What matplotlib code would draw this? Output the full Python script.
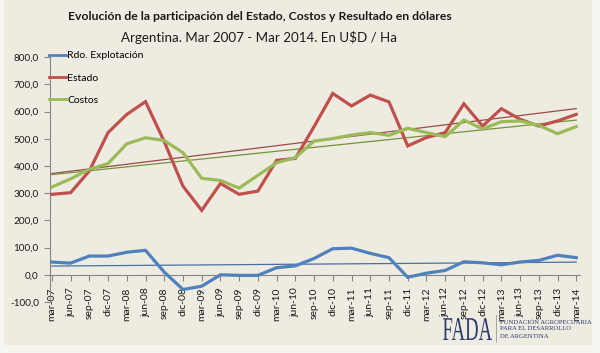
import numpy as np
import matplotlib
matplotlib.use('Agg')
import matplotlib.pyplot as plt
from matplotlib.lines import Line2D
from matplotlib.patches import Rectangle, PathPatch
from matplotlib.textpath import TextPath
from matplotlib.font_manager import FontProperties
from matplotlib.transforms import Affine2D
from matplotlib.ticker import FuncFormatter

plt.rcParams['font.family'] = ['Lato', 'DejaVu Sans']

# Quarterly data, U$D / Ha
quarters = ['mar-07', 'jun-07', 'sep-07', 'dic-07', 'mar-08', 'jun-08', 'sep-08', 'dic-08',
            'mar-09', 'jun-09', 'sep-09', 'dic-09', 'mar-10', 'jun-10', 'sep-10', 'dic-10',
            'mar-11', 'jun-11', 'sep-11', 'dic-11', 'mar-12', 'jun-12', 'sep-12', 'dic-12',
            'mar-13', 'jun-13', 'sep-13', 'dic-13', 'mar-14']
rdo_explotacion = [47, 43, 69, 69, 83, 90, 10, -54, -42, 0, -2, -2, 26, 33, 60, 96,
                   98, 79, 63, -9, 6, 16, 48, 44, 37, 47, 53, 72, 63]
estado = [296, 302, 382, 523, 590, 637, 490, 326, 237, 336, 296, 308, 421, 428, 545, 667,
          621, 661, 636, 474, 505, 523, 629, 547, 611, 572, 547, 566, 590]
costos = [323, 353, 388, 409, 482, 504, 494, 449, 355, 347, 319, 366, 412, 431, 492, 501,
          514, 523, 513, 539, 523, 508, 569, 537, 563, 566, 550, 519, 545]

BG = '#EEECE1'
BLUE = '#4F81BD'
RED = '#C0504D'
GREEN = '#9BBB59'
NAVY = '#2B3A6E'

W, H = 600, 353
fig = plt.figure(figsize=(W / 100, H / 100), dpi=100, facecolor='#F6F5F0')
fig.add_artist(Rectangle((4 / W, 8 / H), 588 / W, 345 / H, transform=fig.transFigure,
                         facecolor=BG, edgecolor='none', zorder=0))

ax = fig.add_axes([50 / W, 1 - 302 / H, 530 / W, (302 - 57.3) / H])
ax.set_facecolor('none')

# spine position first: it resets the ticks
for s in ['top', 'right']:
    ax.spines[s].set_visible(False)
ax.spines['bottom'].set_position(('data', 0))
for s in ['left', 'bottom']:
    ax.spines[s].set_color('#868686')
    ax.spines[s].set_linewidth(0.8)

x = np.arange(len(quarters))
series = [(rdo_explotacion, BLUE, '#4A6FA5'), (estado, RED, '#9A4A48'), (costos, GREEN, '#76923C')]
for vals, col, tcol in series:
    ax.plot(x, vals, color=col, lw=2.3, solid_joinstyle='miter', zorder=3)
    # linear trend line
    k, b = np.polyfit(x, vals, 1)
    ax.plot(x, k * x + b, color=tcol, lw=0.9, zorder=2)

ax.set_xlim(-0.1, 28.2)
ax.set_ylim(-100, 800)
ax.set_yticks(np.arange(-100, 801, 100))
ax.yaxis.set_major_formatter(FuncFormatter(lambda v, p: f'{v:.1f}'.replace('.', ',')))
ax.set_xticks(x)
ax.set_xticklabels(quarters, rotation=90)

ax.tick_params(axis='y', length=4, width=0.8, color='#868686', labelsize=7.2,
               labelcolor='#1A1A1A', pad=4)
ax.tick_params(axis='x', length=4, width=0.8, color='#868686', labelsize=7.5,
               labelcolor='#1A1A1A', pad=5)

handles = [Line2D([], [], color=BLUE, lw=2), Line2D([], [], color=RED, lw=2),
           Line2D([], [], color=GREEN, lw=2)]
ax.legend(handles, ['Rdo. Explotación', 'Estado', 'Costos'], loc='upper left',
          bbox_to_anchor=(49 / W, 1 - 51 / H), bbox_transform=fig.transFigure,
          frameon=False, fontsize=7.5, handlelength=1.6, handletextpad=0.15,
          labelspacing=1.25, borderpad=0, borderaxespad=0)

fig.text(260 / W, 1 - 17 / H, 'Evolución de la participación del Estado, Costos y Resultado en dólares',
         ha='center', va='center', fontsize=8.8, fontweight='bold', color='#1A1A1A')
fig.text(259 / W, 1 - 37 / H, 'Argentina. Mar 2007 - Mar 2014. En U$D / Ha',
         ha='center', va='center', fontsize=9.6, color='#1A1A1A')

# FADA logo
tp = TextPath((0, 0), 'FADA', size=10, prop=FontProperties(family='Liberation Serif'))
ext = tp.get_extents()
tr = Affine2D().translate(-ext.x0, -ext.y0).scale(49 / ext.width / 100, 22 / ext.height / 100)
tr = tr.translate(443 / 100, (H - 340) / 100) + fig.dpi_scale_trans
fig.add_artist(PathPatch(tp, transform=tr, facecolor=NAVY, edgecolor='none'))
fig.add_artist(Line2D([496 / W, 496 / W], [1 - 315 / H, 1 - 342 / H], transform=fig.transFigure,
                      color='#9A9A9A', lw=0.6))
for i, t in enumerate(['FUNDACIÓN AGROPECUARIA', 'PARA EL DESARROLLO', 'DE ARGENTINA']):
    fig.text(500 / W, 1 - (322 + 7 * i) / H, t, ha='left', va='center', fontsize=4.8,
             family='Liberation Serif', color=NAVY)

fig.savefig('out.png', dpi=100, facecolor=fig.get_facecolor())
